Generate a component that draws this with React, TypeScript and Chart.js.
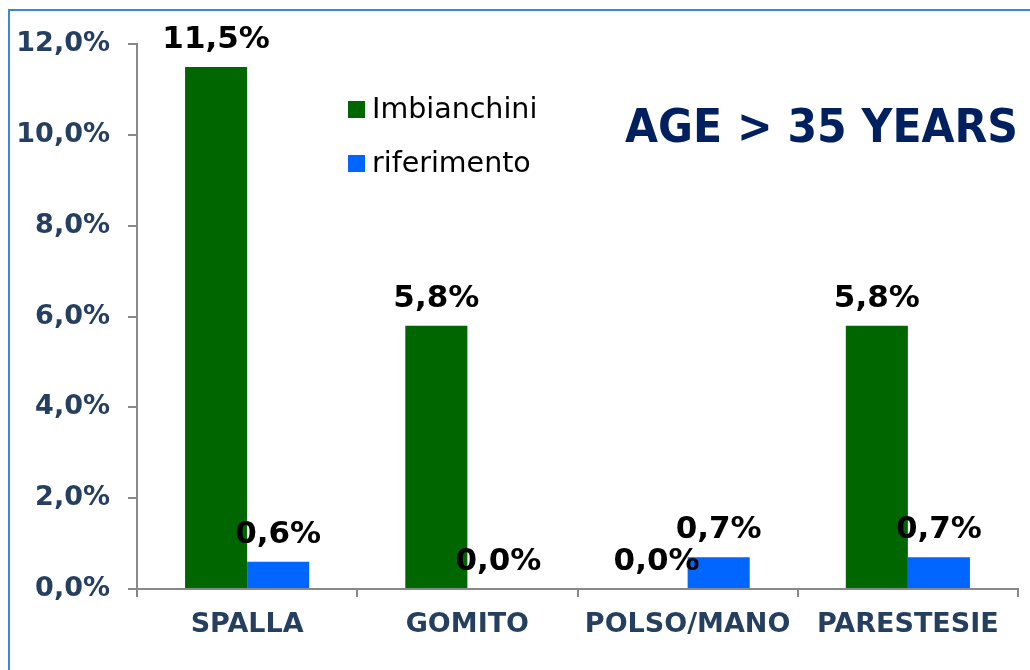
import React, { useEffect, useRef } from "react";
import { Chart, registerables } from "chart.js";

Chart.register(...registerables);

const categories = ["SPALLA", "GOMITO", "POLSO/MANO", "PARESTESIE"];
const imbianchini = [11.5, 5.8, 0.0, 5.8];
const riferimento = [0.6, 0.0, 0.7, 0.7];
const seriesNames = ["Imbianchini", "riferimento"];
const seriesColors = ["#006600", "#0066FF"];
const yMin = 0;
const yMax = 12;
const yStep = 2;
const titleText = "AGE > 35 YEARS";

const FONT = '"DejaVu Sans", Verdana, sans-serif';
const fmt = (v: number) => v.toFixed(1).replace(".", ",") + "%";

const overlayPlugin = {
  id: "overlay",
  afterDatasetsDraw(chart: any) {
    const ctx = chart.ctx as CanvasRenderingContext2D;
    ctx.save();
    // value labels
    ctx.font = `bold 31px ${FONT}`;
    ctx.fillStyle = "#000000";
    ctx.textAlign = "center";
    ctx.textBaseline = "alphabetic";
    chart.data.datasets.forEach((ds: any, i: number) => {
      const meta = chart.getDatasetMeta(i);
      meta.data.forEach((bar: any, j: number) => {
        ctx.fillText(fmt(ds.data[j]), bar.x, bar.y - 19);
      });
    });
    // legend
    ctx.font = `28.5px ${FONT}`;
    ctx.textAlign = "left";
    chart.data.datasets.forEach((ds: any, i: number) => {
      const top = 91 + i * 54;
      ctx.fillStyle = ds.backgroundColor;
      ctx.fillRect(340, top, 17, 17);
      ctx.fillStyle = "#000000";
      ctx.fillText(ds.label, 364, top + 17);
    });
    // title
    ctx.font = `bold 46px ${FONT}`;
    ctx.fillStyle = "#002060";
    ctx.textAlign = "right";
    const w = ctx.measureText(titleText).width;
    const sx = 393 / w;
    ctx.translate(1010, 132);
    ctx.scale(sx, 1);
    ctx.fillText(titleText, 0, 0);
    ctx.restore();
  },
};

export default function App() {
  const ref = useRef<HTMLCanvasElement>(null);
  useEffect(() => {
    const chart = new Chart(ref.current!, {
      type: "bar",
      data: {
        labels: categories,
        datasets: [
          { label: seriesNames[0], data: imbianchini, backgroundColor: seriesColors[0] },
          { label: seriesNames[1], data: riferimento, backgroundColor: seriesColors[1] },
        ],
      },
      options: {
        responsive: false,
        animation: false,
        layout: { padding: { top: 33, right: 12, left: 0, bottom: 0 } },
        datasets: { bar: { categoryPercentage: 0.5636, barPercentage: 1.0 } },
        plugins: { legend: { display: false }, tooltip: { enabled: false }, title: { display: false } },
        scales: {
          x: {
            grid: { display: true, drawOnChartArea: false, drawTicks: true, tickLength: 8, color: "#888888", lineWidth: 2, offset: true },
            border: { display: true, color: "#888888", width: 2 },
            ticks: { color: "#243F60", font: { family: FONT, size: 27, weight: "bold" }, padding: 12, maxRotation: 0, autoSkip: false },
            afterFit: (s: any) => { s.height = 80; },
          },
          y: {
            min: yMin,
            max: yMax,
            ticks: { stepSize: yStep, callback: (v: any) => fmt(Number(v)), color: "#243F60", font: { family: FONT, size: 27, weight: "bold" }, padding: 18 },
            grid: { display: true, drawOnChartArea: false, drawTicks: true, tickLength: 9, color: "#888888", lineWidth: 2 },
            border: { display: true, color: "#888888", width: 2 },
            afterFit: (s: any) => { s.width = 129; },
          },
        },
      } as any,
      plugins: [overlayPlugin],
    });
    return () => chart.destroy();
  }, []);
  return (
    <div style={{ position: "fixed", left: 0, top: 0, width: 1030, height: 670, overflow: "hidden", background: "#ffffff" }}>
      <div style={{ position: "absolute", left: 8, top: 9, width: 1100, height: 700, borderTop: "2px solid #3B87D9", borderLeft: "2px solid #3B87D9", borderRight: "none" }} />
      <div style={{ position: "absolute", left: 8, top: 10, width: 1022, height: 659 }}>
        <canvas ref={ref} width={1022} height={659} style={{ display: "block" }} />
      </div>
    </div>
  );
}
